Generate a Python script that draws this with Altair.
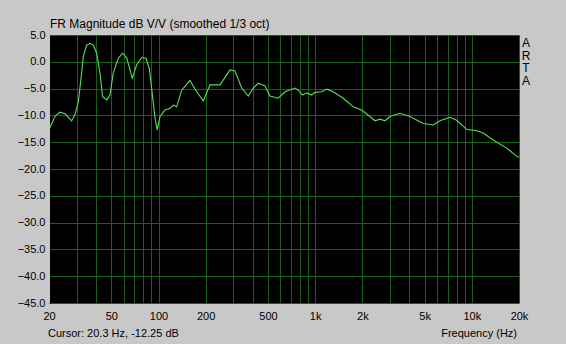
import altair as alt
import pandas as pd

# Frequency response
freq_hz = [20.0, 20.3, 21.8, 23.5, 25.3, 27.9, 29.3, 30.8, 32.3, 33.1, 34.8, 36.5, 38.4, 40.3,
           42.3, 44.0, 46.7, 49.0, 51.4, 55.4, 59.1, 62.7, 65.8, 68.0, 72.5, 78.1, 83.2,
           87.3, 90.4, 95.0, 98.2, 102.2, 110, 118.4, 124.3, 130.6, 140.6, 158.8, 175.3,
           193.1, 213, 246.8, 285.9, 307.6, 339.6, 374.2, 402.7, 433.4, 477.9, 514.4,
           581.2, 641.4, 743, 779.8, 831.9, 882.3, 949.4, 996.8, 1100, 1184, 1304, 1510,
           1750, 1979, 2236, 2406, 2590, 2789, 3002, 3476, 4026, 4895, 5670, 6255, 7244,
           7998, 9262, 10726, 11818, 13692, 16674, 19308, 20000]
mag_db = [-12.3, -12.25, -10.2, -9.4, -9.7, -11.0, -9.9, -7.4, -2.1, 0.95, 3.1, 3.45, 3.1, 1.6,
          -2.1, -6.5, -7.1, -6.2, -2.1, 0.7, 1.6, 0.7, -1.5, -3.1, -0.6, 0.8, 0.65,
          -1.2, -4.9, -10.5, -12.7, -10.2, -9.0, -8.7, -8.1, -8.4, -5.3, -3.5, -5.6,
          -7.3, -4.3, -4.3, -1.5, -1.7, -4.9, -6.4, -4.9, -4.0, -4.5, -6.4,
          -6.8, -5.6, -4.9, -5.3, -6.2, -5.8, -6.2, -5.7, -5.6, -5.1, -5.6, -6.8,
          -8.4, -9.0, -10.2, -11.0, -10.7, -11.0, -10.2, -9.6, -10.2, -11.5, -11.8, -11.0, -10.35,
          -10.9, -12.6, -12.85, -13.3, -14.6, -16.1, -17.6, -17.8]

x_grid = [20, 30, 40, 50, 60, 70, 80, 90, 100, 200, 300, 400, 500, 600, 700, 800, 900,
          1000, 2000, 3000, 4000, 5000, 6000, 7000, 8000, 9000, 10000, 20000]
x_labels = [20, 50, 100, 200, 500, 1000, 2000, 5000, 10000, 20000]
y_ticks = [5, 0, -5, -10, -15, -20, -25, -30, -35, -40, -45]

df = pd.DataFrame({"f": freq_hz, "db": mag_db})

BG = "#C8C8C8"
GRID = "#1B5E1B"
CURVE = "#55E055"
FONT = "Liberation Sans"

lab_list = ",".join(str(v) for v in x_labels)
label_expr = ("indexof([" + lab_list + "], datum.value) >= 0 ? "
              "(datum.value >= 1000 ? (datum.value/1000) + 'k' : '' + datum.value) : ''")

curve = alt.Chart(df).mark_line(color=CURVE, strokeWidth=1.1, clip=True).encode(
    x=alt.X("f:Q", scale=alt.Scale(type="log", domain=[20, 20000], nice=False),
            axis=alt.Axis(values=x_grid, labelExpr=label_expr, ticks=False, domain=False,
                          grid=True, gridColor=GRID, gridOpacity=1, labelOverlap=False,
                          labelFlush=False, labelPadding=7, labelFontSize=11,
                          labelColor="black", labelFont=FONT, title=None)),
    y=alt.Y("db:Q", scale=alt.Scale(domain=[-45, 5], nice=False),
            axis=alt.Axis(values=y_ticks, format=".1f", ticks=False, domain=False,
                          grid=True, gridColor=GRID, gridOpacity=1, labelPadding=4,
                          labelFlush=False, labelFontSize=11, labelColor="black",
                          labelFont=FONT, title=None)),
)

border = alt.Chart(df).mark_rule(color="#D0D080", strokeWidth=1).encode(
    x=alt.value(0.5), y=alt.value(0), y2=alt.value(268))

def txt(s, x, y, align="left", size=11, baseline="middle", **kw):
    return alt.Chart(pd.DataFrame({"t": [s]})).mark_text(
        align=align, baseline=baseline, fontSize=size, font=FONT, color="black", **kw
    ).encode(x=alt.value(x), y=alt.value(y), text="t:N")

title = txt("FR Magnitude dB V/V (smoothed 1/3 oct)", 1, -11, size=12)
arta = txt("A\nR\nT\nA", 477, 3, align="center", size=12, baseline="top",
           lineBreak="\n", lineHeight=12.5)
cursor = txt("Cursor: 20.3 Hz, -12.25 dB", -1, 299)
freq_t = txt("Frequency (Hz)", 468, 299, align="right")

chart = alt.layer(curve, border, title, arta, cursor, freq_t).properties(
    width=470, height=268,
    background=BG,
    padding={"left": 49, "top": 35, "right": 47, "bottom": 41},
    autosize=alt.AutoSizeParams(type="none"),
).configure_view(fill="black", stroke=None)

chart.save("out.html", embed_options={"renderer": "svg", "actions": False})
